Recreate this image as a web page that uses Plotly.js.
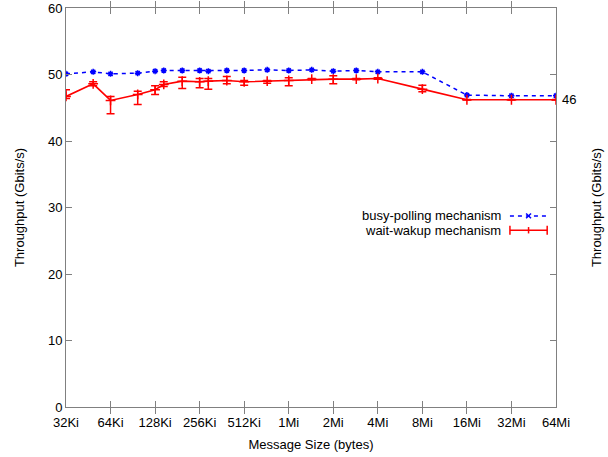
<!DOCTYPE html>
<html>
<head>
<meta charset="utf-8">
<script src="https://cdn.plot.ly/plotly-3.0.1.min.js"></script>
<style>html,body{margin:0;padding:0;background:#fff}#chart{width:608px;height:457px}</style>
</head>
<body>
<div id="chart"></div>
<script>
const sizes = [32768, 50000, 65536, 100000, 131072, 150000, 200000, 262144, 300000, 400000, 524288, 750000, 1048576, 1500000, 2097152, 3000000, 4194304, 8388608, 16777216, 33554432, 67108864];
const busyPolling = [50.1, 50.4, 50.1, 50.2, 50.5, 50.6, 50.6, 50.6, 50.5, 50.6, 50.6, 50.7, 50.6, 50.7, 50.5, 50.6, 50.4, 50.4, 46.9, 46.8, 46.8];
const waitWakeup = [46.7, 48.6, 46.1, 47.0, 47.7, 48.5, 49.0, 48.9, 49.0, 49.1, 48.9, 49.0, 49.1, 49.3, 49.3, 49.3, 49.4, 47.8, 46.2, 46.2, 46.2];
const waitWakeupMax = [47.7, 48.9, 46.7, 47.5, 48.3, 48.9, 49.6, 49.4, 49.4, 49.7, 49.1, 49.1, 49.5, 49.4, 49.8, 49.4, 49.5, 48.4, 46.25, 46.25, 46.25];
const waitWakeupMin = [46.4, 48.3, 44.1, 45.5, 47.0, 48.2, 47.9, 48.0, 47.8, 48.6, 48.4, 48.7, 48.3, 49.2, 48.6, 49.2, 49.3, 47.4, 46.15, 46.15, 46.15];
const tickVals = [32768, 65536, 131072, 262144, 524288, 1048576, 2097152, 4194304, 8388608, 16777216, 33554432, 67108864];
const tickText = ["32Ki", "64Ki", "128Ki", "256Ki", "512Ki", "1Mi", "2Mi", "4Mi", "8Mi", "16Mi", "32Mi", "64Mi"];
const seriesNames = ["busy-polling mechanism", "wait-wakup mechanism"];

const FONT = "Liberation Sans, Arial, sans-serif";
const AXC = "#808080";

const traces = [
  {
    x: sizes, y: busyPolling, type: "scatter", mode: "lines+markers", name: seriesNames[0],
    line: {color: "#0000ff", width: 1.5, dash: "4px,4px"},
    marker: {symbol: "asterisk-open", size: 5, color: "#0000ff", line: {color: "#0000ff", width: 1.5}},
    showlegend: false
  },
  {
    x: sizes, y: waitWakeup, type: "scatter", mode: "lines+markers", name: seriesNames[1],
    line: {color: "#ff0000", width: 1.6},
    marker: {symbol: "cross-thin-open", size: 7, color: "#ff0000", line: {color: "#ff0000", width: 1.5}},
    error_y: {
      type: "data", symmetric: false,
      array: waitWakeupMax.map((v, i) => v - waitWakeup[i]),
      arrayminus: waitWakeup.map((v, i) => v - waitWakeupMin[i]),
      color: "#ff0000", thickness: 1.5, width: 4
    },
    showlegend: false
  },
  { x: [sizes[0]], y: [null], yaxis: "y2", type: "scatter", mode: "lines", showlegend: false, hoverinfo: "skip" }
];

// legend drawn gnuplot-style: text right-aligned, sample on the right
const lgX0 = 0.906, lgX1 = 0.982, lgY1 = 0.479, lgY2 = 0.443, lgTextX = 0.891;
const lgMid = (lgX0 + lgX1) / 2;
const shapes = [
  {type: "line", xref: "paper", yref: "paper", x0: lgX0, x1: lgX1, y0: lgY1, y1: lgY1, line: {color: "#0000ff", width: 1.5, dash: "4px,4px"}},
  {type: "line", xref: "paper", yref: "paper", x0: lgMid - 0.005, x1: lgMid + 0.005, y0: lgY1 - 0.006, y1: lgY1 + 0.006, line: {color: "#0000ff", width: 1.5}},
  {type: "line", xref: "paper", yref: "paper", x0: lgMid - 0.005, x1: lgMid + 0.005, y0: lgY1 + 0.006, y1: lgY1 - 0.006, line: {color: "#0000ff", width: 1.5}},
  {type: "line", xref: "paper", yref: "paper", x0: lgX0, x1: lgX1, y0: lgY2, y1: lgY2, line: {color: "#ff0000", width: 1.6}},
  {type: "line", xref: "paper", yref: "paper", x0: lgX0, x1: lgX0, y0: lgY2 - 0.011, y1: lgY2 + 0.011, line: {color: "#ff0000", width: 1.5}},
  {type: "line", xref: "paper", yref: "paper", x0: lgX1, x1: lgX1, y0: lgY2 - 0.011, y1: lgY2 + 0.011, line: {color: "#ff0000", width: 1.5}},
  {type: "line", xref: "paper", yref: "paper", x0: lgMid, x1: lgMid, y0: lgY2 - 0.008, y1: lgY2 + 0.008, line: {color: "#ff0000", width: 1.5}}
];

const lastIdx = sizes.length - 1;
const annotations = [
  {xref: "paper", yref: "paper", x: lgTextX, y: lgY1, text: seriesNames[0], showarrow: false, xanchor: "right", yanchor: "middle", font: {family: FONT, size: 13, color: "#000"}},
  {xref: "paper", yref: "paper", x: lgTextX, y: lgY2, text: seriesNames[1], showarrow: false, xanchor: "right", yanchor: "middle", font: {family: FONT, size: 13, color: "#000"}},
  {x: Math.log10(sizes[lastIdx]), y: waitWakeup[lastIdx], text: String(Math.round(waitWakeup[lastIdx])), showarrow: false, xanchor: "left", yanchor: "middle", xshift: 4, font: {family: FONT, size: 13, color: "#000"}}
];

const layout = {
  width: 608, height: 457,
  margin: {l: 66, r: 52, t: 8, b: 50},
  paper_bgcolor: "#fff", plot_bgcolor: "#fff",
  font: {family: FONT, size: 13, color: "#000"},
  xaxis: {
    type: "log", range: [Math.log10(32768), Math.log10(67108864)],
    tickvals: tickVals, ticktext: tickText, ticks: "inside", ticklen: 6, tickcolor: AXC,
    ticklabelstandoff: 3,
    showline: true, linecolor: AXC, linewidth: 1, mirror: "allticks", showgrid: false, zeroline: false,
    tickfont: {family: FONT, size: 13, color: "#000"},
    title: {text: "Message Size (bytes)", font: {family: FONT, size: 13}, standoff: 11}
  },
  yaxis: {
    range: [0, 60], dtick: 10, ticks: "inside", ticklen: 6, tickcolor: AXC,
    showline: true, linecolor: AXC, linewidth: 1, mirror: "allticks", showgrid: false, zeroline: false,
    tickfont: {family: FONT, size: 13, color: "#000"},
    title: {text: "Throughput (Gbits/s)", font: {family: FONT, size: 13}, standoff: 20}
  },
  yaxis2: {
    overlaying: "y", side: "right", range: [0, 60], showticklabels: false, ticks: "", showgrid: false, zeroline: false, showline: false,
    title: {text: "Throughput (Gbits/s)", font: {family: FONT, size: 13}, standoff: 35}
  },
  shapes: shapes,
  annotations: annotations,
  showlegend: false
};

Plotly.newPlot("chart", traces, layout, {displayModeBar: false, staticPlot: true});
</script>
</body>
</html>
